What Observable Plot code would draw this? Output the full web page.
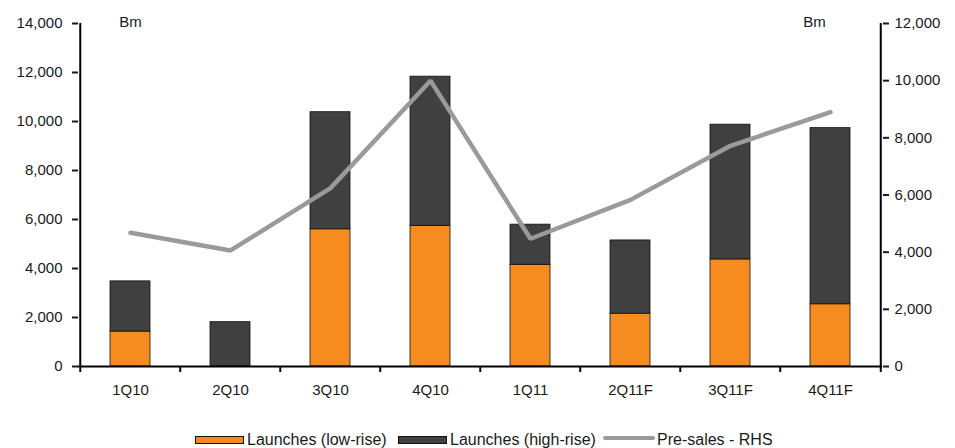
<!DOCTYPE html>
<html><head><meta charset="utf-8">
<script src="https://cdn.jsdelivr.net/npm/d3@7"></script>
<script src="https://cdn.jsdelivr.net/npm/@observablehq/plot@0.6"></script>
<style>
body{margin:0;background:#fff;font-family:"Liberation Sans",Arial,sans-serif;color:#1a1a1a;}
#legend{position:relative;height:38px;font-size:16px;}
.item{position:absolute;top:21px;height:18px;line-height:18px;display:flex;align-items:center;white-space:nowrap;}
.sw{box-sizing:border-box;width:49px;height:8px;border:1px solid #111;margin-right:3px;}
.ln{width:52px;height:4px;background:#9a9a9a;border-radius:2px;margin-right:2px;position:relative;top:-2px;}
</style></head><body><div id="chart"></div><div id="legend"></div>
<script>
const categories = ["1Q10","2Q10","3Q10","4Q10","1Q11","2Q11F","3Q11F","4Q11F"];
const lowRise  = [1425, 0, 5600, 5740, 4150, 2155, 4370, 2540];
const highRise = [2050, 1810, 4780, 6090, 1640, 2990, 5500, 7190];
const preSales = [4680, 4060, 6240, 10000, 4470, 5830, 7720, 8900];
const leftTicks  = [0, 2000, 4000, 6000, 8000, 10000, 12000, 14000];
const rightTicks = [0, 2000, 4000, 6000, 8000, 10000, 12000];
const seriesNames = ["Launches (low-rise)", "Launches (high-rise)", "Pre-sales - RHS"];
const unitLabel = "Bm";

const LOW_COLOR = "#F68B1F", HIGH_COLOR = "#404040", LINE_COLOR = "#9a9a9a";
const W = 955, H = 410, mL = 78, mR = 73, mT = 23, mB = 44;
const LEFT_MAX = 14000, RIGHT_MAX = 12000;
const step = (W - mL - mR) / categories.length;
const pxPerUnit = (H - mT - mB) / LEFT_MAX;
const toLeft = v => v * LEFT_MAX / RIGHT_MAX;
const tickDown = 6 / pxPerUnit;
const rows = categories.map((c, i) => ({cat: c, low: lowRise[i], top: lowRise[i] + highRise[i], pre: toLeft(preSales[i])}));
const last = categories[categories.length - 1];
const fmt = d3.format(",");

const chart = Plot.plot({
  width: W, height: H, marginLeft: mL, marginRight: mR, marginTop: mT, marginBottom: mB,
  style: {fontFamily: '"Liberation Sans", Arial, sans-serif', fontSize: "15px", color: "#1a1a1a", background: "#fff", overflow: "visible"},
  x: {domain: categories, paddingInner: 0.6, paddingOuter: 0.3, axis: null},
  y: {domain: [0, LEFT_MAX], axis: null},
  marks: [
    Plot.barY(rows, {x: "cat", y1: 0, y2: "low", fill: LOW_COLOR, stroke: "#111", strokeWidth: 0.8}),
    Plot.barY(rows, {x: "cat", y1: "low", y2: "top", fill: HIGH_COLOR, stroke: "#111", strokeWidth: 0.8}),
    Plot.line(rows, {x: "cat", y: "pre", stroke: LINE_COLOR, strokeWidth: 4.5, strokeLinejoin: "miter"}),
    Plot.ruleY([0], {stroke: "#000", strokeWidth: 2}),
    Plot.ruleX([categories[0]], {y1: 0, y2: LEFT_MAX, dx: -step / 2, stroke: "#000", strokeWidth: 2}),
    Plot.ruleX([last], {y1: 0, y2: LEFT_MAX, dx: step / 2, stroke: "#000", strokeWidth: 2}),
    Plot.ruleX(categories, {y1: 0, y2: -tickDown, dx: -step / 2, stroke: "#000", strokeWidth: 2}),
    Plot.ruleX([last], {y1: 0, y2: -tickDown, dx: step / 2, stroke: "#000", strokeWidth: 2}),
    Plot.axisY({anchor: "left", ticks: leftTicks, tickFormat: fmt, tickSize: 6, tickPadding: 10, strokeWidth: 2, label: null}),
    Plot.axisY({anchor: "right", ticks: rightTicks.map(toLeft), tickFormat: v => fmt(Math.round(v * RIGHT_MAX / LEFT_MAX)), tickSize: 6, tickPadding: 6, strokeWidth: 2, label: null}),
    Plot.axisX({tickSize: 0, tickPadding: 18, label: null}),
    Plot.text([unitLabel], {frameAnchor: "top-left", dx: 52, dy: -1, textAnchor: "middle", lineAnchor: "middle"}),
    Plot.text([unitLabel], {frameAnchor: "top-right", dx: -68, dy: -1, textAnchor: "middle", lineAnchor: "middle"})
  ]
});
document.getElementById("chart").appendChild(chart);

const legend = document.getElementById("legend");
const swatches = [
  `<span class="sw" style="background:${LOW_COLOR}"></span>`,
  `<span class="sw" style="background:${HIGH_COLOR}"></span>`,
  `<span class="ln"></span>`
];
const legendLeft = [195, 398, 603];
seriesNames.forEach((n, i) => {
  const it = document.createElement("div");
  it.className = "item";
  it.style.left = legendLeft[i] + "px";
  it.innerHTML = swatches[i] + `<span>${n}</span>`;
  legend.appendChild(it);
});
</script></body></html>
